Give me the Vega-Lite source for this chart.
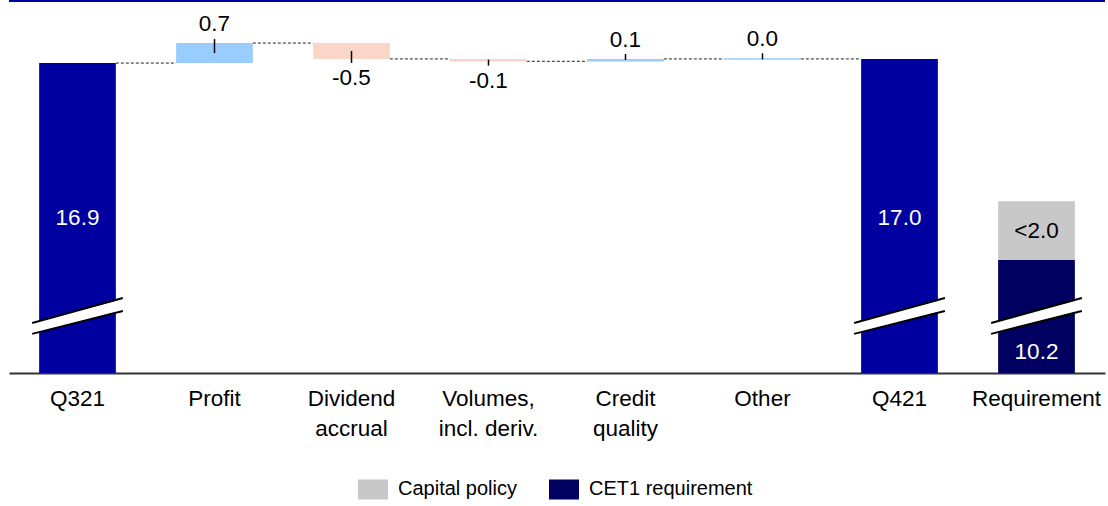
{
  "$schema": "https://vega.github.io/schema/vega-lite/v6.json",
  "width": 1096,
  "height": 372,
  "autosize": {"type": "none"},
  "padding": {"left": 9, "top": 1, "right": 3, "bottom": 133},
  "config": {
    "view": {"stroke": null},
    "font": "Liberation Sans",
    "axis": {"title": null, "grid": false}
  },
  "datasets": {
    "totals": [
      {"cat": "Q321", "start": 0, "end": 16.9, "label": "16.9"},
      {"cat": "Q421", "start": 0, "end": 17.04, "label": "17.0"}
    ],
    "steps": [
      {"cat": "Profit", "start": 16.9, "end": 17.58, "delta": 0.7, "label": "0.7"},
      {"cat": "Dividend accrual", "start": 17.58, "end": 17.04, "delta": -0.5, "label": "-0.5"},
      {"cat": "Volumes, incl. deriv.", "start": 17.04, "end": 16.95, "delta": -0.1, "label": "-0.1"},
      {"cat": "Credit quality", "start": 16.95, "end": 17.04, "delta": 0.1, "label": "0.1"},
      {"cat": "Other", "start": 17.01, "end": 17.06, "delta": 0.0, "label": "0.0"}
    ],
    "links": [
      {"from": "Q321", "to": "Profit", "level": 16.9},
      {"from": "Profit", "to": "Dividend accrual", "level": 17.58},
      {"from": "Dividend accrual", "to": "Volumes, incl. deriv.", "level": 17.04},
      {"from": "Volumes, incl. deriv.", "to": "Credit quality", "level": 16.96},
      {"from": "Credit quality", "to": "Other", "level": 17.04},
      {"from": "Other", "to": "Q421", "level": 17.04}
    ],
    "req": [
      {"cat": "Requirement", "segment": "CET1 requirement", "start": 0, "end": 10.2, "label": "10.2"},
      {"cat": "Requirement", "segment": "Capital policy", "start": 10.2, "end": 12.2, "label": "<2.0"}
    ],
    "breaks": [{"cat": "Q321"}, {"cat": "Q421"}, {"cat": "Requirement"}]
  },
  "layer": [
    {
      "data": {"name": "totals"},
      "mark": {"type": "bar", "color": "#0000A0"},
      "encoding": {
        "x": {
          "field": "cat", "type": "nominal",
          "scale": {
            "domain": ["Q321", "Profit", "Dividend accrual", "Volumes, incl. deriv.", "Credit quality", "Other", "Q421", "Requirement"],
            "paddingInner": 0.44, "paddingOuter": 0.22
          },
          "axis": {
            "labelAngle": 0, "ticks": false, "domain": true, "domainColor": "#333333", "domainWidth": 2,
            "labelFontSize": 22.5, "labelPadding": 14, "labelLineHeight": 30, "labelColor": "#000000",
            "labelFont": "Liberation Sans", "labelBaseline": "top", "labelLimit": 0,
            "labelExpr": "datum.value == 'Dividend accrual' ? ['Dividend', 'accrual'] : datum.value == 'Volumes, incl. deriv.' ? ['Volumes,', 'incl. deriv.'] : datum.value == 'Credit quality' ? ['Credit', 'quality'] : datum.value"
          }
        },
        "y": {"field": "end", "type": "quantitative", "scale": {"domain": [6.36, 19.01], "zero": false, "clamp": true, "nice": false}, "axis": null},
        "y2": {"field": "start"}
      }
    },
    {
      "data": {"name": "steps"},
      "transform": [{"filter": {"field": "delta", "gte": 0}}],
      "mark": {"type": "bar", "color": "#99CCFF"},
      "encoding": {
        "x": {"field": "cat", "type": "nominal"},
        "y": {"field": "end", "type": "quantitative", "axis": null},
        "y2": {"field": "start"}
      }
    },
    {
      "data": {"name": "steps"},
      "transform": [{"filter": {"field": "delta", "lt": 0}}],
      "mark": {"type": "bar", "color": "#F9D6C8"},
      "encoding": {
        "x": {"field": "cat", "type": "nominal"},
        "y": {"field": "end", "type": "quantitative", "axis": null},
        "y2": {"field": "start"}
      }
    },
    {
      "data": {"name": "req"},
      "mark": {"type": "bar"},
      "encoding": {
        "x": {"field": "cat", "type": "nominal"},
        "y": {"field": "end", "type": "quantitative", "axis": null},
        "y2": {"field": "start"},
        "color": {
          "field": "segment", "type": "nominal",
          "scale": {"domain": ["Capital policy", "CET1 requirement"], "range": ["#C8C8C8", "#000060"]},
          "legend": {
            "title": null, "orient": "none", "legendX": 349, "legendY": 473, "direction": "horizontal",
            "symbolType": "M-1,-0.667H1V0.667H-1Z", "symbolSize": 900, "symbolStrokeWidth": 0, "symbolOpacity": 1,
            "labelFontSize": 20, "labelOffset": 10, "columnPadding": 32, "padding": 0, "labelLimit": 0,
            "labelFont": "Liberation Sans", "labelColor": "#000000"
          }
        }
      }
    },
    {
      "data": {"name": "links"},
      "mark": {"type": "rule", "color": "#222222", "strokeWidth": 1, "strokeDash": [3, 2]},
      "encoding": {
        "x": {"field": "from", "type": "nominal", "bandPosition": 1},
        "x2": {"field": "to", "bandPosition": 0},
        "y": {"field": "level", "type": "quantitative", "axis": null}
      }
    },
    {
      "data": {"name": "breaks"},
      "mark": {"type": "rule", "color": "#FFFFFF", "strokeWidth": 11, "xOffset": -7, "x2Offset": 7},
      "encoding": {
        "x": {"field": "cat", "type": "nominal", "bandPosition": 0},
        "x2": {"field": "cat", "bandPosition": 1},
        "y": {"datum": 7.87, "type": "quantitative", "axis": null},
        "y2": {"datum": 8.69}
      }
    },
    {
      "data": {"name": "breaks"},
      "mark": {"type": "rule", "color": "#000000", "strokeWidth": 2, "xOffset": -7, "x2Offset": 7},
      "encoding": {
        "x": {"field": "cat", "type": "nominal", "bandPosition": 0},
        "x2": {"field": "cat", "bandPosition": 1},
        "y": {"datum": 8.06, "type": "quantitative", "axis": null},
        "y2": {"datum": 8.91}
      }
    },
    {
      "data": {"name": "breaks"},
      "mark": {"type": "rule", "color": "#000000", "strokeWidth": 2, "xOffset": -7, "x2Offset": 7},
      "encoding": {
        "x": {"field": "cat", "type": "nominal", "bandPosition": 0},
        "x2": {"field": "cat", "bandPosition": 1},
        "y": {"datum": 7.69, "type": "quantitative", "axis": null},
        "y2": {"datum": 8.47}
      }
    },
    {
      "data": {"name": "steps"},
      "transform": [{"filter": {"field": "delta", "gt": 0.3}}],
      "mark": {"type": "rule", "color": "#000000", "strokeWidth": 1.5, "yOffset": -4, "y2Offset": 10},
      "encoding": {
        "x": {"field": "cat", "type": "nominal"},
        "y": {"field": "end", "type": "quantitative", "axis": null},
        "y2": {"field": "end"}
      }
    },
    {
      "data": {"name": "steps"},
      "transform": [{"filter": {"field": "delta", "range": [0, 0.3]}}],
      "mark": {"type": "rule", "color": "#000000", "strokeWidth": 1.5, "yOffset": -5, "y2Offset": 1},
      "encoding": {
        "x": {"field": "cat", "type": "nominal"},
        "y": {"field": "end", "type": "quantitative", "axis": null},
        "y2": {"field": "end"}
      }
    },
    {
      "data": {"name": "steps"},
      "transform": [{"filter": {"field": "delta", "lt": -0.3}}],
      "mark": {"type": "rule", "color": "#000000", "strokeWidth": 1.5, "yOffset": 4, "y2Offset": -8},
      "encoding": {
        "x": {"field": "cat", "type": "nominal"},
        "y": {"field": "end", "type": "quantitative", "axis": null},
        "y2": {"field": "end"}
      }
    },
    {
      "data": {"name": "steps"},
      "transform": [{"filter": {"field": "delta", "range": [-0.3, -0.01]}}],
      "mark": {"type": "rule", "color": "#000000", "strokeWidth": 1.5, "yOffset": 4, "y2Offset": -2},
      "encoding": {
        "x": {"field": "cat", "type": "nominal"},
        "y": {"field": "end", "type": "quantitative", "axis": null},
        "y2": {"field": "end"}
      }
    },
    {
      "data": {"name": "steps"},
      "transform": [{"filter": {"field": "delta", "gte": 0}}],
      "mark": {"type": "text", "fontSize": 22.5, "font": "Liberation Sans", "color": "#000000", "baseline": "middle", "dy": -19},
      "encoding": {
        "x": {"field": "cat", "type": "nominal"},
        "y": {"field": "end", "type": "quantitative", "axis": null},
        "text": {"field": "label"}
      }
    },
    {
      "data": {"name": "steps"},
      "transform": [{"filter": {"field": "delta", "lt": 0}}],
      "mark": {"type": "text", "fontSize": 22.5, "font": "Liberation Sans", "color": "#000000", "baseline": "middle", "dy": 19},
      "encoding": {
        "x": {"field": "cat", "type": "nominal"},
        "y": {"field": "end", "type": "quantitative", "axis": null},
        "text": {"field": "label"}
      }
    },
    {
      "data": {"name": "totals"},
      "mark": {"type": "text", "fontSize": 22.5, "font": "Liberation Sans", "color": "#FFFFFF", "baseline": "middle"},
      "encoding": {
        "x": {"field": "cat", "type": "nominal"},
        "y": {"datum": 11.63, "type": "quantitative", "axis": null},
        "text": {"field": "label"}
      }
    },
    {
      "data": {"name": "req"},
      "transform": [{"filter": {"field": "segment", "equal": "CET1 requirement"}}],
      "mark": {"type": "text", "fontSize": 22.5, "font": "Liberation Sans", "color": "#FFFFFF", "baseline": "middle"},
      "encoding": {
        "x": {"field": "cat", "type": "nominal"},
        "y": {"datum": 7.07, "type": "quantitative", "axis": null},
        "text": {"field": "label"}
      }
    },
    {
      "data": {"name": "req"},
      "transform": [{"filter": {"field": "segment", "equal": "Capital policy"}}],
      "mark": {"type": "text", "fontSize": 22.5, "font": "Liberation Sans", "color": "#000000", "baseline": "middle"},
      "encoding": {
        "x": {"field": "cat", "type": "nominal"},
        "y": {"datum": 11.2, "type": "quantitative", "axis": null},
        "text": {"field": "label"}
      }
    },
    {
      "data": {"values": [{}]},
      "mark": {"type": "rule", "color": "#0000A0", "strokeWidth": 2},
      "encoding": {
        "y": {"datum": 19.01, "type": "quantitative", "axis": null}
      }
    }
  ]
}
